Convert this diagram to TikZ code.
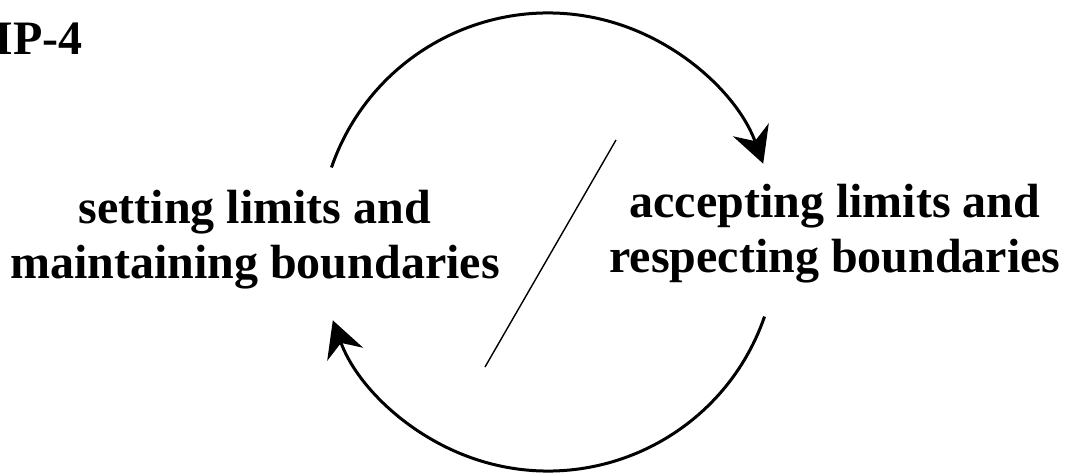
\documentclass[tikz,border=0pt]{standalone}
\usepackage{fontspec}
\setmainfont{Liberation Serif}
\usepackage{tikz}
\usetikzlibrary{arrows.meta}

\begin{document}
\begin{tikzpicture}[
  x=0.5pt, y=0.5pt,
  >=Stealth,
  label/.style={font=\fontsize{24}{27.5}\selectfont\bfseries, align=center, inner sep=0pt},
  cycle/.style={-{Stealth[length=18pt, width=19pt, inset=6pt]}, line width=1.5pt},
  slash/.style={line width=0.7pt}
]
\useasboundingbox (0,0) rectangle (1066,472);

% heading (cut at the left edge)
\node[label, anchor=base west] (tag) at (-6,417) {IP-4};

% the two sides
\node[label] (setting)   at (255,232)   {setting limits and \\ maintaining boundaries};
\node[label] (accepting) at (835,238.5) {accepting limits and \\ respecting boundaries};

% cycle arrows round the hub
\coordinate (hub) at (548,230);
\draw[cycle] (hub) ++(161:229) arc[start angle=161, end angle=20, radius=229];
\draw[cycle] (hub) ++(-19:229) arc[start angle=-19, end angle=-160, radius=229];

% divider
\coordinate (slashtop) at (616,332);
\coordinate (slashbot) at (485,105);
\draw[slash] (slashtop) -- (slashbot);
\end{tikzpicture}
\end{document}
